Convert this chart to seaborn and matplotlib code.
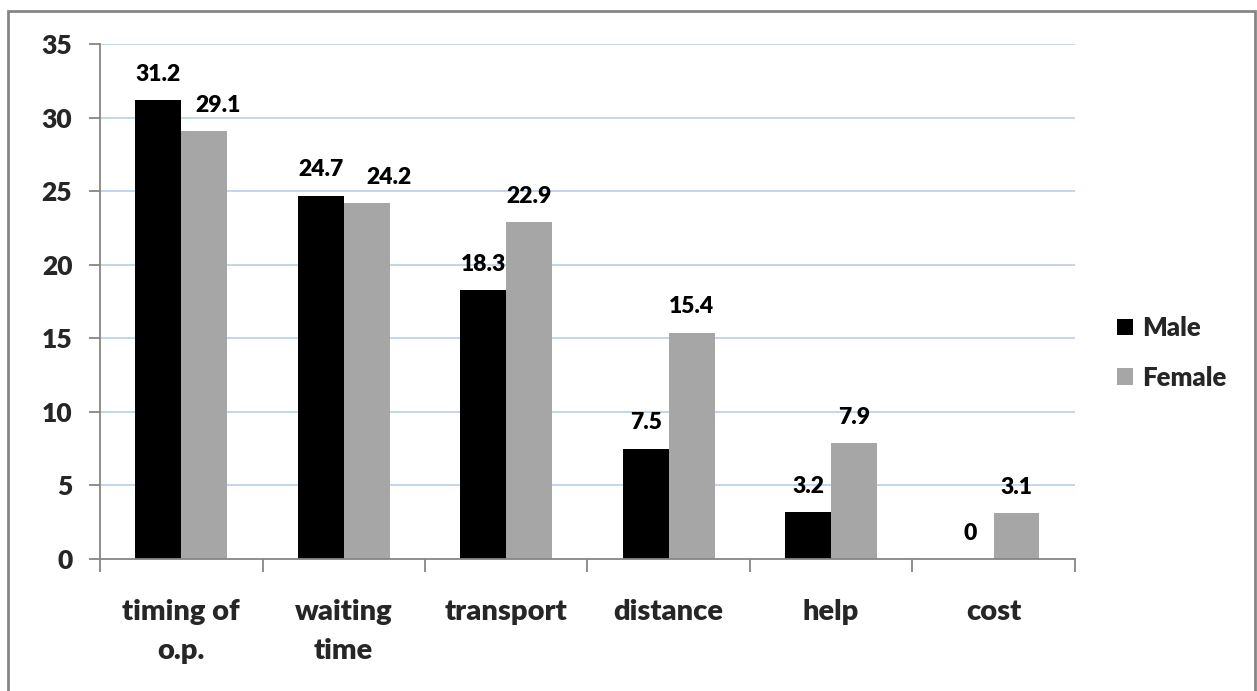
import numpy as np
import pandas as pd
import seaborn as sns
import matplotlib.pyplot as plt
from matplotlib.patches import Rectangle

# data
categories = ["timing of\no.p.", "waiting\ntime", "transport", "distance", "help", "cost"]
male = [31.2, 24.7, 18.3, 7.5, 3.2, 0]
female = [29.1, 24.2, 22.9, 15.4, 7.9, 3.1]
groups = ["Male", "Female"]
yticks = [0, 5, 10, 15, 20, 25, 30, 35]

df = pd.DataFrame({
    "category": categories * 2,
    "value": male + female,
    "group": [groups[0]] * len(categories) + [groups[1]] * len(categories),
})

sns.set_theme(style="white")
plt.rcParams["font.family"] = ["Lato", "DejaVu Sans"]
W = 800  # heavy-ish weight, closer to the Calibri bold of the original

fig = plt.figure(figsize=(12.57, 6.91), dpi=100)
ax = fig.add_axes([0.0796, 0.191, 0.7754, 0.745])

sns.barplot(data=df, x="category", y="value", hue="group",
            palette={"Male": "#000000", "Female": "#A6A6A6"},
            width=0.566, saturation=1, linewidth=0, ax=ax, legend=True)

# value labels (the original nudges two female labels sideways to avoid overlap)
nudge = {(1, 0): 10, (1, 1): 16}
for gi, cont in enumerate(ax.containers):
    anns = ax.bar_label(cont, labels=[f"{v.get_height():g}" for v in cont],
                        padding=11, fontsize=16.5, fontweight=W, color="black")
    for ci, a in enumerate(anns):
        dx = nudge.get((gi, ci), 0)
        if dx:
            a.xyann = (dx, 11)

ax.set_ylim(0, 35)
ax.set_xlim(-0.5, len(categories) - 0.5)
ax.set_yticks(yticks)
ax.set_xlabel("")
ax.set_ylabel("")

# grid
for y in yticks[1:]:
    ax.axhline(y, color="#C4D4EE", lw=1.4, zorder=0)

# spines
for s in ["top", "right"]:
    ax.spines[s].set_visible(False)
for s in ["left", "bottom"]:
    ax.spines[s].set_color("#868686")
    ax.spines[s].set_linewidth(1.3)

ax.tick_params(axis="y", length=8, width=1.3, color="#868686", pad=12,
               labelsize=19, left=True)
ax.tick_params(axis="x", which="major", length=0, pad=29, labelsize=21)
ax.set_xticks(np.arange(-0.5, len(categories), 1), minor=True)
ax.tick_params(axis="x", which="minor", length=9, width=1.3, color="#868686",
               bottom=True)
for lab in ax.get_yticklabels():
    lab.set_fontweight(W)
for lab in ax.get_xticklabels():
    lab.set_fontweight(W)
    lab.set_linespacing(1.6)

leg = ax.legend(loc="center left", bbox_to_anchor=(1117 / 1257, 1 - 353 / 691),
                bbox_transform=fig.transFigure, frameon=False,
                fontsize=18.5, handlelength=0.62, handleheight=0.62,
                handletextpad=0.35, labelspacing=1.0, borderpad=0,
                borderaxespad=0)
for t in leg.get_texts():
    t.set_fontweight(W)

# outer frame
fig.patches.append(Rectangle((8 / 1257, -0.05), 1247 / 1257, 1.05 - 11 / 691,
                             transform=fig.transFigure, fill=False,
                             edgecolor="#868686", lw=2))

fig.savefig("out.png", dpi=100)
